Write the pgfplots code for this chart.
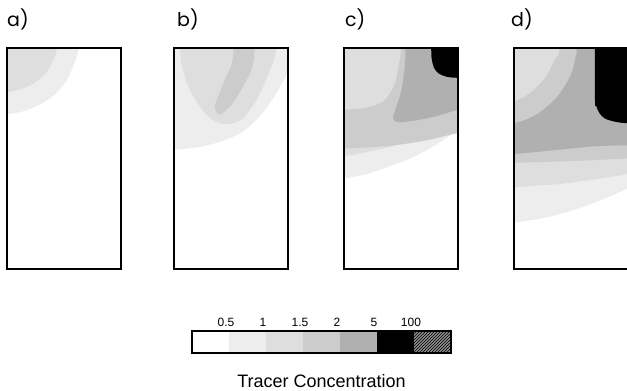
\documentclass[border=0pt]{standalone}
\usepackage{pgfplots}
\pgfplotsset{compat=1.18}
\usetikzlibrary{patterns}
\usepackage{fontspec}
\setmainfont{Liberation Sans}
\newfontfamily\panelfont{Poppins}

% grey levels of the concentration classes
\definecolor{lvA}{gray}{0.93}  % 0.5 - 1
\definecolor{lvB}{gray}{0.87}  % 1 - 1.5
\definecolor{lvC}{gray}{0.80}  % 1.5 - 2
\definecolor{lvD}{gray}{0.69}  % 2 - 5
\definecolor{lvE}{gray}{0.00}  % 5 - 100

\pgfplotsset{
  panel/.style={scale only axis, width=114pt, height=221pt,
    xmin=0, xmax=1, ymin=0, ymax=1, ticks=none, axis on top,
    axis line style={line width=1.4pt}, anchor=south west},
  lvA/.style={fill=lvA, draw=none, smooth, tension=0.5},
  lvB/.style={fill=lvB, draw=none, smooth, tension=0.5},
  lvC/.style={fill=lvC, draw=none, smooth, tension=0.5},
  lvD/.style={fill=lvD, draw=none, smooth, tension=0.5},
  lvE/.style={fill=lvE, draw=none, smooth, tension=0.5},
}
\newcommand{\panellabel}[3]{%
  \node[anchor=base west, inner sep=0pt,
        font=\panelfont\fontsize{19}{21}\selectfont]
    at ([xshift=#2, yshift=21pt]#1.north west) {#3};}

\begin{document}
\begin{tikzpicture}
\useasboundingbox (0,0) rectangle (627pt,391pt);

% ---------------- a) ----------------
\begin{axis}[panel, name=pa, at={(7pt,122pt)}]
\addplot[lvA] coordinates {(-0.3,0.68) (0,0.70) (0.15,0.715) (0.29,0.745) (0.42,0.79)
  (0.52,0.85) (0.59,0.93) (0.63,1.0) (0.66,1.1) (0.8,1.5) (-0.5,1.5)} -- cycle;
\addplot[lvB] coordinates {(-0.3,0.79) (0,0.80) (0.2,0.83) (0.34,0.885) (0.41,0.95)
  (0.44,1.0) (0.46,1.1) (0.6,1.5) (-0.5,1.5)} -- cycle;
\end{axis}
\panellabel{pa}{0pt}{a)}

% ---------------- b) ----------------
\begin{axis}[panel, name=pb, at={(174pt,122pt)}]
\addplot[lvA] coordinates {(-0.3,0.53) (0,0.54) (0.2,0.55) (0.4,0.575) (0.6,0.62)
  (0.75,0.69) (0.88,0.78) (1,0.89) (1.1,0.98) (1.5,1.5) (-0.5,1.5)} -- cycle;
\addplot[lvB] coordinates {(0.02,1.3) (0.06,0.95) (0.15,0.8) (0.3,0.69) (0.45,0.655)
  (0.6,0.68) (0.74,0.78) (0.84,0.9) (0.9,1.0) (0.95,1.3)} -- cycle;
\addplot[lvC] coordinates {(0.52,1.3) (0.52,0.97) (0.45,0.86) (0.36,0.74) (0.4,0.7)
  (0.5,0.74) (0.62,0.84) (0.7,0.95) (0.74,1.3)} -- cycle;
\end{axis}
\panellabel{pb}{3pt}{b)}

% ---------------- c) ----------------
\begin{axis}[panel, name=pc, at={(344pt,122pt)}]
\addplot[lvA] coordinates {(-0.3,0.40) (0,0.41) (0.2,0.43) (0.4,0.465) (0.6,0.505)
  (0.8,0.56) (1,0.63) (1.2,0.7) (1.5,1.5) (-0.5,1.5)} -- cycle;
\addplot[lvB] coordinates {(-0.3,0.5) (0,0.51) (0.3,0.54) (0.6,0.58) (0.8,0.62)
  (1,0.67) (1.2,0.72) (1.5,1.5) (-0.5,1.5)} -- cycle;
\addplot[lvC] coordinates {(-0.3,0.71) (0,0.72) (0.2,0.73) (0.35,0.76) (0.44,0.83)
  (0.48,0.92) (0.5,1.0) (0.52,1.3) (1.3,1.3) (1.3,0.63) (1,0.615) (0.75,0.585)
  (0.45,0.56) (0.2,0.55) (0,0.545) (-0.3,0.54)} -- cycle;
\addplot[lvD] coordinates {(0.54,1.3) (0.54,1.0) (0.53,0.9) (0.5,0.8) (0.45,0.72)
  (0.43,0.68) (0.47,0.665) (0.6,0.67) (0.8,0.69) (1,0.72) (1.3,0.75) (1.3,1.3)} -- cycle;
\addplot[lvE] coordinates {(0.76,1.3) (0.765,1.0) (0.77,0.95) (0.79,0.91) (0.83,0.885)
  (0.9,0.87) (1,0.865) (1.3,0.865) (1.3,1.3)} -- cycle;
\end{axis}
\panellabel{pc}{1pt}{c)}

% ---------------- d) ----------------
\begin{axis}[panel, name=pd, at={(514pt,122pt)}]
\addplot[lvA] coordinates {(-0.3,0.2) (0,0.21) (0.3,0.235) (0.6,0.28) (0.85,0.33)
  (1,0.365) (1.3,0.43) (1.5,1.5) (-0.5,1.5)} -- cycle;
\addplot[lvB] coordinates {(-0.3,0.36) (0,0.37) (0.4,0.385) (0.7,0.405) (1,0.43)
  (1.3,0.46) (1.5,1.5) (-0.5,1.5)} -- cycle;
\addplot[lvC] coordinates {(-0.3,0.75) (0,0.76) (0.15,0.8) (0.28,0.87) (0.36,0.95)
  (0.4,1.0) (0.42,1.3) (1.3,1.3) (1.3,0.5) (1,0.5) (0.6,0.49) (0.3,0.485)
  (0,0.48) (-0.3,0.475)} -- cycle;
\addplot[lvD] coordinates {(-0.3,0.65) (0,0.66) (0.2,0.7) (0.38,0.78) (0.5,0.88)
  (0.54,0.96) (0.55,1.0) (0.56,1.3) (1.3,1.3) (1.3,0.56) (1,0.56) (0.7,0.555)
  (0.4,0.54) (0,0.52) (-0.3,0.51)} -- cycle;
\addplot[lvE] coordinates {(0.71,1.3) (0.71,0.78) (0.72,0.74) (0.75,0.705) (0.8,0.68)
  (0.9,0.665) (1,0.66) (1.3,0.66) (1.3,1.3)} -- cycle;
\end{axis}
\panellabel{pd}{-3pt}{d)}

% ---------------- colour key ----------------
\begin{axis}[name=cb, scale only axis, width=259pt, height=22pt,
    at={(192pt,38pt)}, anchor=south west,
    xmin=0, xmax=7, ymin=0, ymax=1, ytick=\empty,
    xtick={1,2,3,4,5,6}, xticklabels={0.5,1,1.5,2,5,100},
    xticklabel pos=upper, major tick length=0pt,
    xticklabel style={anchor=base, xshift=-3pt, yshift=4pt,
      font=\fontsize{12}{14}\selectfont},
    axis on top, axis line style={line width=1.2pt}]
\addplot[fill=lvA, draw=none] coordinates {(1,0) (2,0) (2,1) (1,1)} -- cycle;
\addplot[fill=lvB, draw=none] coordinates {(2,0) (3,0) (3,1) (2,1)} -- cycle;
\addplot[fill=lvC, draw=none] coordinates {(3,0) (4,0) (4,1) (3,1)} -- cycle;
\addplot[fill=lvD, draw=none] coordinates {(4,0) (5,0) (5,1) (4,1)} -- cycle;
\addplot[fill=lvE, draw=none] coordinates {(5,0) (6,0) (6,1) (5,1)} -- cycle;
\addplot[fill=black!45, draw=none] coordinates {(6,0) (7,0) (7,1) (6,1)} -- cycle;
\addplot[pattern=north east lines, pattern color=black, draw=none]
  coordinates {(6,0) (7,0) (7,1) (6,1)} -- cycle;
\end{axis}
\node[anchor=base, inner sep=0pt, font=\fontsize{18}{20}\selectfont]
  at ([yshift=-35pt]cb.south) {Tracer Concentration};

\end{tikzpicture}
\end{document}
